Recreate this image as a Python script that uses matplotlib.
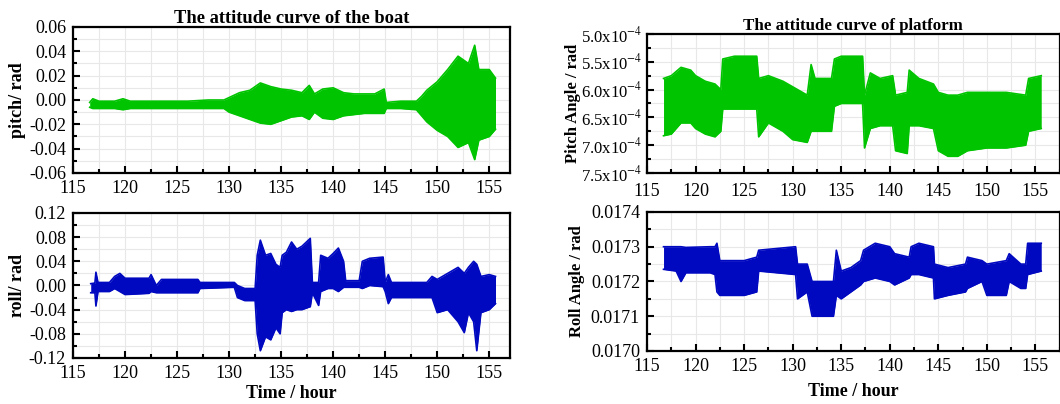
import numpy as np
import matplotlib
matplotlib.use("Agg")
import matplotlib.pyplot as plt
from matplotlib.ticker import MultipleLocator, FuncFormatter

plt.rcParams['font.family'] = ['Liberation Serif', 'DejaVu Serif']
plt.rcParams['mathtext.fontset'] = 'stix'

GREEN = '#00c400'
BLUE = '#0008c0'

# boat pitch envelope (hour, upper, lower) in rad
boat_t = [116.6, 116.9, 117.5, 119.0, 119.8, 120.5, 122.0, 124.0, 126.0, 128.0, 129.5,
          130.0, 131.0, 132.0, 133.0, 134.0, 135.0, 136.0, 137.0, 137.7, 138.2,
          139.0, 140.0, 141.0, 142.0, 143.0, 144.0, 144.9, 145.1, 146.5, 148.0,
          148.5, 149.0, 150.0, 151.0, 152.0, 153.0, 153.6, 154.0, 155.0, 155.6]
boat_pitch_hi = [-0.002, 0.001, -0.001, -0.001, 0.001, -0.001, -0.001, -0.001, -0.001, 0.000, 0.000,
                 0.002, 0.006, 0.008, 0.014, 0.011, 0.009, 0.008, 0.006, 0.012, 0.005,
                 0.009, 0.010, 0.006, 0.005, 0.005, 0.005, 0.009, -0.002, -0.001, -0.001,
                 0.003, 0.008, 0.015, 0.025, 0.036, 0.030, 0.045, 0.025, 0.025, 0.018]
boat_pitch_lo = [-0.006, -0.007, -0.007, -0.007, -0.008, -0.007, -0.007, -0.007, -0.007, -0.007, -0.007,
                 -0.010, -0.013, -0.016, -0.019, -0.020, -0.017, -0.014, -0.013, -0.016, -0.010,
                 -0.015, -0.016, -0.013, -0.012, -0.011, -0.011, -0.011, -0.007, -0.007, -0.008,
                 -0.013, -0.018, -0.025, -0.030, -0.039, -0.035, -0.049, -0.033, -0.030, -0.024]

# boat roll envelope
roll_t = [116.7, 117.1, 117.2, 117.4, 118.5, 119.0, 119.5, 120.0, 122.3, 122.5, 123.0,
          123.5, 127.0, 127.2, 130.5, 130.8, 131.5, 132.5, 132.7, 133.0, 133.5, 134.0,
          134.5, 134.9, 135.1, 135.5, 136.0, 136.5, 137.0, 137.8, 138.0, 138.6, 138.8,
          139.5, 140.0, 140.5, 141.0, 141.2, 142.5, 142.8, 143.5, 144.8, 145.0, 145.3,
          145.6, 149.0, 149.5, 150.0, 151.0, 152.0, 152.6, 153.0, 153.5, 153.8, 154.2,
          155.0, 155.6]
boat_roll_hi = [0.003, 0.004, 0.022, 0.005, 0.005, 0.015, 0.020, 0.012, 0.012, 0.018, 0.000,
                0.010, 0.010, 0.005, 0.005, 0.000, -0.005, -0.005, 0.050, 0.075, 0.050, 0.053,
                0.035, 0.030, 0.050, 0.055, 0.072, 0.060, 0.065, 0.078, 0.005, 0.005, 0.050,
                0.045, 0.053, 0.062, 0.040, 0.008, 0.008, 0.040, 0.045, 0.047, 0.005, 0.018,
                0.005, 0.005, 0.015, 0.010, 0.020, 0.030, 0.020, 0.030, 0.040, 0.035, 0.015,
                0.018, 0.015]
boat_roll_lo = [-0.012, -0.012, -0.034, -0.010, -0.010, -0.005, -0.010, -0.015, -0.013, -0.010, -0.012,
                -0.012, -0.012, -0.005, -0.003, -0.020, -0.025, -0.025, -0.080, -0.108, -0.085, -0.090,
                -0.070, -0.080, -0.045, -0.040, -0.043, -0.040, -0.040, -0.035, -0.012, -0.033, -0.010,
                -0.005, -0.005, -0.010, -0.003, -0.003, -0.003, -0.005, 0.000, -0.002, -0.010, -0.030,
                -0.020, -0.020, -0.020, -0.045, -0.040, -0.060, -0.078, -0.045, -0.060, -0.108, -0.045,
                -0.040, -0.030]

# platform pitch envelope (x1e-4 rad); small = top of the inverted axis
plat_t = [116.7, 117.5, 118.5, 119.5, 120.0, 121.0, 122.0, 122.6, 122.8, 124.0, 126.3,
          126.5, 127.5, 129.0, 130.0, 131.5, 131.9, 132.3, 134.0, 134.3, 135.0, 137.2,
          137.4, 138.0, 139.0, 140.3, 140.6, 141.8, 142.0, 143.0, 144.5, 145.0, 146.0,
          147.0, 148.0, 150.0, 152.0, 154.0, 154.3, 155.6]
plat_pitch_top = [5.80, 5.75, 5.60, 5.65, 5.75, 5.85, 5.90, 6.00, 5.45, 5.40, 5.40,
                  5.80, 5.75, 5.85, 5.95, 6.10, 5.55, 5.80, 5.80, 5.45, 5.40, 5.40,
                  6.10, 5.70, 5.80, 5.75, 6.10, 6.05, 5.65, 5.80, 5.90, 6.05, 6.10,
                  6.10, 6.05, 6.05, 6.05, 6.10, 5.80, 5.75]
plat_pitch_bot = [6.83, 6.80, 6.60, 6.60, 6.70, 6.80, 6.85, 6.75, 6.35, 6.35, 6.35,
                  6.85, 6.60, 6.75, 6.90, 6.95, 6.75, 6.75, 6.75, 6.30, 6.25, 6.25,
                  7.05, 6.70, 6.65, 6.65, 7.10, 7.15, 6.65, 6.65, 6.70, 7.10, 7.20,
                  7.20, 7.10, 7.05, 7.05, 7.00, 6.75, 6.70]

# platform roll envelope (rad)
proll_t = [116.7, 118.0, 118.5, 119.0, 121.5, 122.0, 122.2, 122.5, 125.0, 126.3, 126.5,
           130.3, 130.5, 131.5, 132.0, 134.2, 134.5, 135.0, 136.0, 137.0, 137.3, 138.5,
           140.0, 140.5, 142.0, 142.2, 143.0, 144.5, 144.6, 146.0, 147.8, 148.0, 149.5,
           150.0, 152.0, 152.3, 153.5, 154.0, 154.2, 155.6]
plat_roll_hi = [0.017300, 0.017300, 0.017300, 0.017298, 0.017300, 0.017300, 0.017310, 0.017260, 0.017260, 0.017270, 0.017290,
                0.017300, 0.017250, 0.017250, 0.017200, 0.017200, 0.017290, 0.017230, 0.017240, 0.017260, 0.017290, 0.017310,
                0.017300, 0.017280, 0.017270, 0.017300, 0.017310, 0.017300, 0.017250, 0.017240, 0.017250, 0.017270, 0.017260,
                0.017250, 0.017260, 0.017280, 0.017250, 0.017250, 0.017310, 0.017310]
plat_roll_lo = [0.017235, 0.017230, 0.017200, 0.017225, 0.017225, 0.017220, 0.017170, 0.017160, 0.017160, 0.017170, 0.017230,
                0.017220, 0.017150, 0.017170, 0.017100, 0.017100, 0.017160, 0.017150, 0.017170, 0.017190, 0.017200, 0.017210,
                0.017200, 0.017190, 0.017210, 0.017220, 0.017220, 0.017210, 0.017150, 0.017160, 0.017170, 0.017180, 0.017200,
                0.017160, 0.017160, 0.017200, 0.017180, 0.017180, 0.017220, 0.017230]


def style_axes(ax, xlim, ylim, ymajor, yminor):
    ax.set_xlim(*xlim)
    ax.set_ylim(*ylim)
    ax.xaxis.set_major_locator(MultipleLocator(5))
    ax.xaxis.set_minor_locator(MultipleLocator(2.5))
    ax.yaxis.set_major_locator(MultipleLocator(ymajor))
    ax.yaxis.set_minor_locator(MultipleLocator(yminor))
    ax.grid(which='both', color='#e8e8e8', linewidth=0.8)
    ax.set_axisbelow(True)
    ax.tick_params(which='both', direction='in', top=False, right=False, labelsize=13, width=1.5)
    ax.tick_params(which='major', length=5)
    ax.tick_params(which='minor', length=3)
    ax.tick_params(axis='x', pad=5)
    ax.tick_params(axis='y', pad=5)
    for s in ax.spines.values():
        s.set_linewidth(1.6)


def band(ax, t, lo, hi, color):
    ax.fill_between(t, lo, hi, color=color, linewidth=0)
    ax.plot(t, hi, color=color, linewidth=1.2)
    ax.plot(t, lo, color=color, linewidth=1.2)


fig = plt.figure(figsize=(10.6, 4.04), dpi=100)

ax1 = fig.add_axes([0.0689, 0.5718, 0.4123, 0.3614])
band(ax1, boat_t, boat_pitch_lo, boat_pitch_hi, GREEN)
style_axes(ax1, (115, 157), (-0.06, 0.06), 0.02, 0.01)
ax1.yaxis.set_major_formatter(FuncFormatter(lambda v, p: f'{v:.2f}'))
ax1.set_ylabel('pitch/ rad', fontsize=13, fontweight='bold', labelpad=2)
ax1.set_title('The attitude curve of the boat', fontsize=13.3, fontweight='bold', pad=2)

ax2 = fig.add_axes([0.0689, 0.1139, 0.4123, 0.3589])
band(ax2, roll_t, boat_roll_lo, boat_roll_hi, BLUE)
style_axes(ax2, (115, 157), (-0.12, 0.12), 0.04, 0.02)
ax2.yaxis.set_major_formatter(FuncFormatter(lambda v, p: f'{v:.2f}'))
ax2.set_ylabel('roll/ rad', fontsize=13, fontweight='bold', labelpad=2)
ax2.set_xlabel('Time / hour', fontsize=13, fontweight='bold', labelpad=2)

ax3 = fig.add_axes([0.6104, 0.5718, 0.3893, 0.3441])
plat_lo = np.array(plat_pitch_top) * 1e-4
plat_hi = np.array(plat_pitch_bot) * 1e-4
band(ax3, plat_t, plat_lo, plat_hi, GREEN)
style_axes(ax3, (115, 157.5), (7.5e-4, 5.0e-4), 0.5e-4, 0.25e-4)
ax3.yaxis.set_major_formatter(FuncFormatter(lambda v, p: f'{v * 1e4:.1f}x10$^{{-4}}$'))
ax3.tick_params(axis='y', labelsize=12, pad=3)
ax3.tick_params(axis='x', pad=7)
ax3.set_ylabel('Pitch Angle / rad', fontsize=12, fontweight='bold', labelpad=0)
ax3.set_title('The attitude curve of platform', fontsize=12.2, fontweight='bold', pad=3)

ax4 = fig.add_axes([0.6104, 0.1312, 0.3893, 0.3441])
band(ax4, proll_t, plat_roll_lo, plat_roll_hi, BLUE)
style_axes(ax4, (115, 157.5), (0.0170, 0.0174), 0.0001, 0.00005)
ax4.yaxis.set_major_formatter(FuncFormatter(lambda v, p: f'{v:.4f}'))
ax4.set_ylabel('Roll Angle / rad', fontsize=12, fontweight='bold', labelpad=4)
ax4.set_xlabel('Time / hour', fontsize=13, fontweight='bold', labelpad=6)

fig.savefig('out.png', dpi=100)
